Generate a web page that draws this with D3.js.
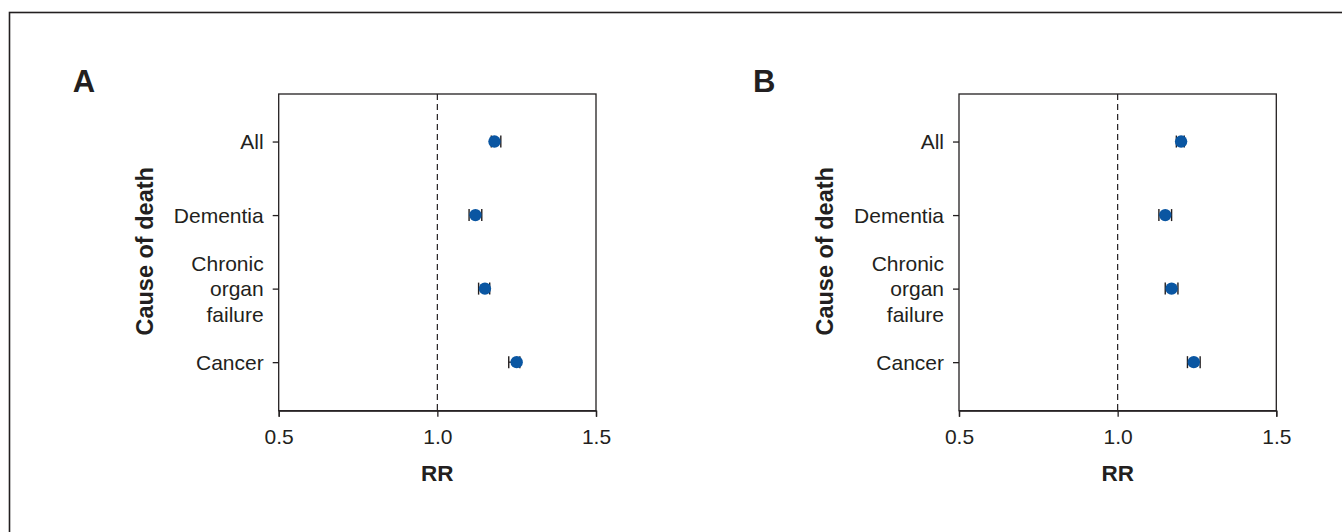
<!DOCTYPE html>
<html>
<meta charset="utf-8">
<style>
body {
  margin: 0;
  background: #fff;
  font-family: "Liberation Sans", Arial, sans-serif;
}
.axis path,
.axis line {
  fill: none;
  stroke: #231f20;
  stroke-width: 1.3px;
}
.axis text {
  font-size: 21px;
  fill: #231f20;
}
</style>
<body>
<script src="https://cdn.jsdelivr.net/npm/d3@7"></script>
<script>
var w = 1342;
var h = 532;

// data
var causes = ["All", "Dementia", "Chronic organ failure", "Cancer"];
var rrA   = [1.18, 1.12, 1.15, 1.25];
var lowA  = [1.17, 1.10, 1.13, 1.225];
var highA = [1.20, 1.14, 1.165, 1.26];
var rrB   = [1.20, 1.15, 1.17, 1.24];
var lowB  = [1.185, 1.13, 1.15, 1.22];
var highB = [1.21, 1.17, 1.19, 1.26];
var xTicks = [0.5, 1.0, 1.5];

// wrapped category labels
var causeLines = {
  "All": ["All"],
  "Dementia": ["Dementia"],
  "Chronic organ failure": ["Chronic", "organ", "failure"],
  "Cancer": ["Cancer"]
};

var svg = d3.select("body")
  .append("svg")
  .attr("width", w)
  .attr("height", h);

// outer frame (only top and left edges show)
svg.append("rect")
  .attr("x", 9.5)
  .attr("y", 12.5)
  .attr("width", 1400)
  .attr("height", 600)
  .style("fill", "none")
  .style("stroke", "#231f20")
  .style("stroke-width", 1.6);

function drawPanel(letter, left, rr, low, high) {
  var top = 94, bottom = 410.7, width = 317.3;

  var x = d3.scaleLinear()
    .domain([0.5, 1.5])
    .range([left, left + width]);

  var y = d3.scalePoint()
    .domain(causes)
    .range([top - 1, bottom])
    .padding(0.66);

  var g = svg.append("g");

  // plot box
  g.append("rect")
    .attr("x", left)
    .attr("y", top)
    .attr("width", width)
    .attr("height", bottom - top)
    .style("fill", "none")
    .style("stroke", "#231f20")
    .style("stroke-width", 1.3);

  // reference line at RR = 1
  g.append("line")
    .attr("x1", x(1))
    .attr("x2", x(1))
    .attr("y1", top)
    .attr("y2", bottom)
    .style("stroke", "#231f20")
    .style("stroke-width", 1.2)
    .style("stroke-dasharray", "6,4");

  // x-axis
  var xAxis = d3.axisBottom(x)
    .tickValues(xTicks)
    .tickFormat(d3.format(".1f"))
    .tickSizeOuter(0)
    .tickSize(6)
    .tickPadding(12);
  g.append("g")
    .attr("class", "axis")
    .attr("transform", "translate(0," + bottom + ")")
    .call(xAxis);

  // y-axis
  var yAxis = d3.axisLeft(y)
    .tickSize(6)
    .tickSizeOuter(0)
    .tickFormat("");
  var ya = g.append("g")
    .attr("class", "axis")
    .attr("transform", "translate(" + left + ",0)")
    .call(yAxis);
  ya.select(".domain").remove();

  ya.selectAll(".tick")
    .append("text")
    .attr("x", -15)
    .attr("text-anchor", "end")
    .style("fill", "#231f20")
    .each(function(d) {
      var lines = causeLines[d];
      var t = d3.select(this);
      var lh = 25.5;
      var y0 = -(lines.length - 1) / 2 * lh;
      lines.forEach(function(s, i) {
        t.append("tspan")
          .attr("x", -15)
          .attr("y", y0 + i * lh)
          .attr("dy", "0.35em")
          .text(s);
      });
    });

  // axis titles
  g.append("text")
    .attr("x", x(1))
    .attr("y", 481)
    .attr("text-anchor", "middle")
    .style("font-size", "22.5px")
    .style("font-weight", "bold")
    .style("fill", "#231f20")
    .text("RR");

  g.append("text")
    .attr("transform", "translate(" + (left - 126) + "," + ((top + bottom) / 2 - 1) + ") rotate(-90)")
    .attr("text-anchor", "middle")
    .style("font-size", "23.5px")
    .style("font-weight", "bold")
    .style("fill", "#231f20")
    .text("Cause of death");

  // panel letter
  g.append("text")
    .attr("x", left - 206)
    .attr("y", 92)
    .style("font-size", "31px")
    .style("font-weight", "bold")
    .style("fill", "#231f20")
    .text(letter);

  // error bars
  var bars = g.selectAll(".err")
    .data(causes)
    .enter()
    .append("g")
    .attr("class", "err");

  bars.append("line")
    .attr("x1", function(d, i) { return x(low[i]); })
    .attr("x2", function(d, i) { return x(high[i]); })
    .attr("y1", function(d) { return y(d); })
    .attr("y2", function(d) { return y(d); })
    .style("stroke", "#231f20")
    .style("stroke-width", 1.3);

  bars.append("line")
    .attr("x1", function(d, i) { return x(low[i]); })
    .attr("x2", function(d, i) { return x(low[i]); })
    .attr("y1", function(d) { return y(d) - 6; })
    .attr("y2", function(d) { return y(d) + 6; })
    .style("stroke", "#231f20")
    .style("stroke-width", 1.4);

  bars.append("line")
    .attr("x1", function(d, i) { return x(high[i]); })
    .attr("x2", function(d, i) { return x(high[i]); })
    .attr("y1", function(d) { return y(d) - 6; })
    .attr("y2", function(d) { return y(d) + 6; })
    .style("stroke", "#231f20")
    .style("stroke-width", 1.4);

  // point estimates
  g.selectAll(".dot")
    .data(causes)
    .enter()
    .append("circle")
    .attr("class", "dot")
    .attr("r", 6.2)
    .attr("cx", function(d, i) { return x(rr[i]); })
    .attr("cy", function(d) { return y(d); })
    .style("fill", "#0a56a2");
}

drawPanel("A", 278.7, rrA, lowA, highA);
drawPanel("B", 959, rrB, lowB, highB);
</script>
</body>
</html>
